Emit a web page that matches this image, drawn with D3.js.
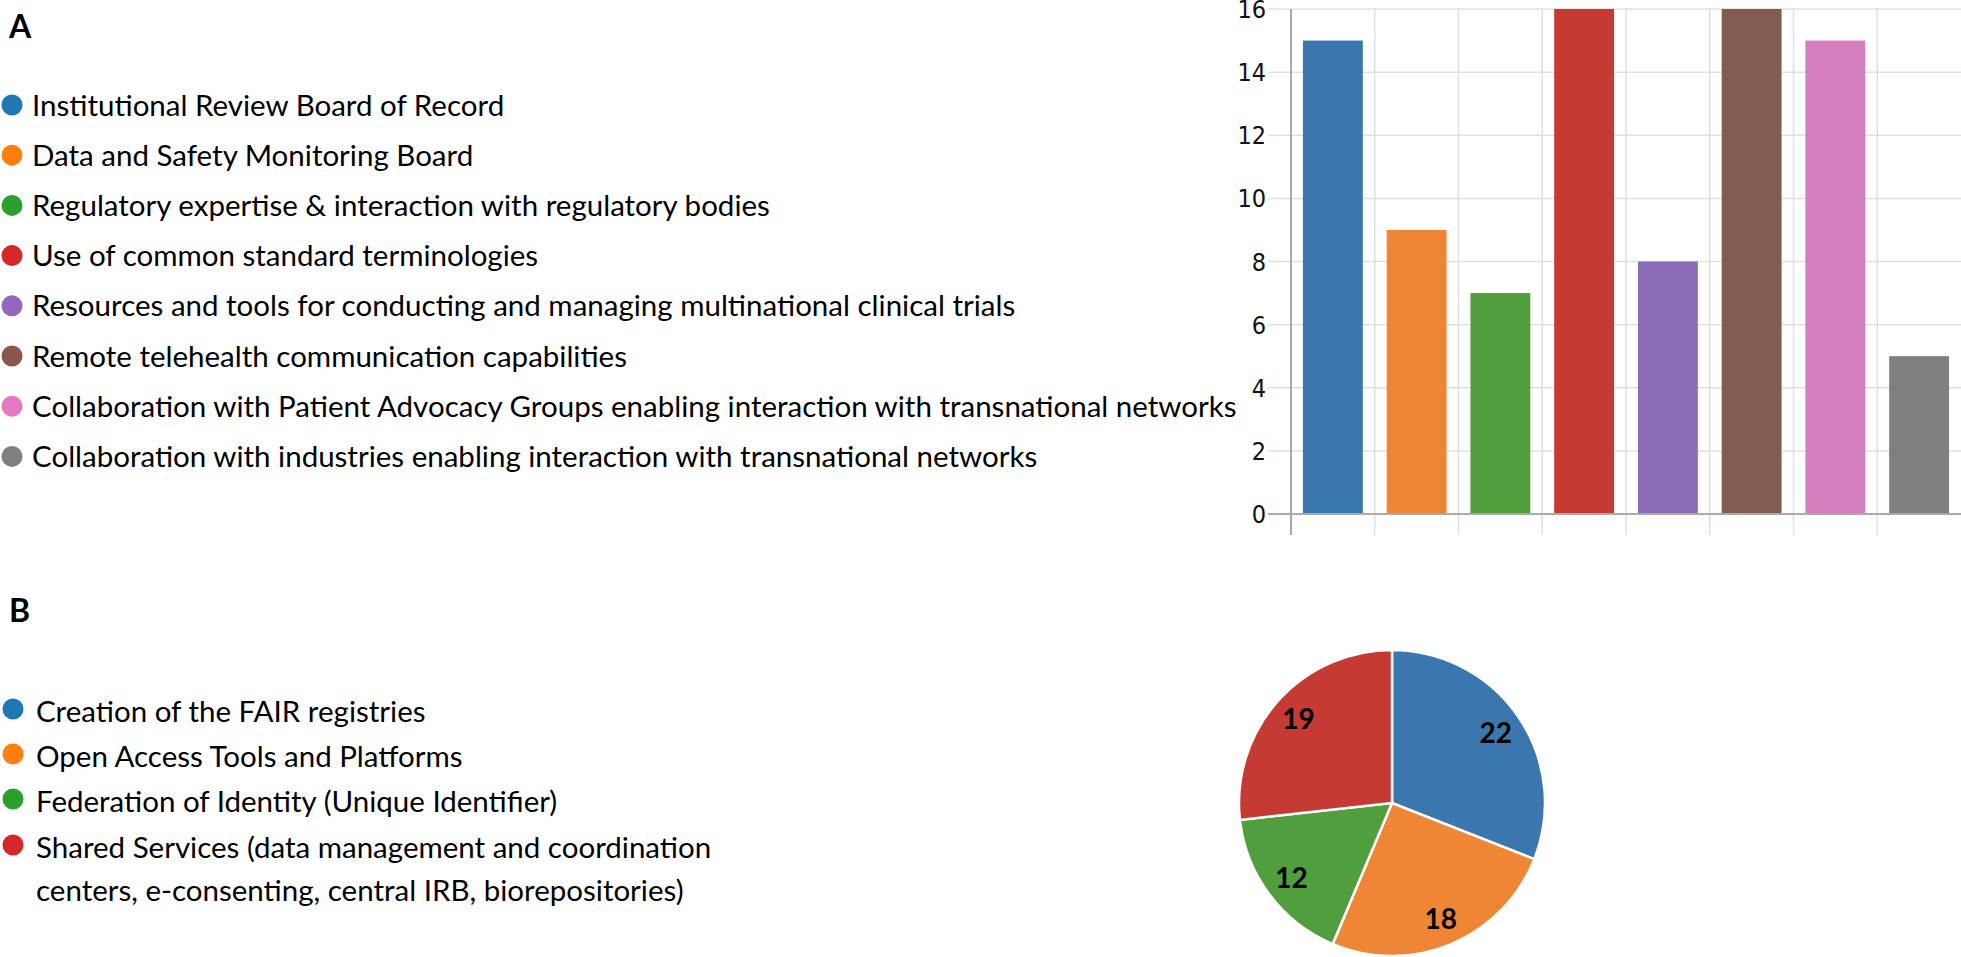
<!DOCTYPE html>
<html>
<head>
<meta charset="utf-8">
<script src="https://cdn.jsdelivr.net/npm/d3@7"></script>
<style>
  html, body { margin: 0; padding: 0; background: #fff; }
  svg { display: block; }
</style>
</head>
<body>
<svg id="chart" width="1961" height="957"></svg>
<script>
// panel A: services offered (bar chart)
const servicesA = [
  'Institutional Review Board of Record',
  'Data and Safety Monitoring Board',
  'Regulatory expertise & interaction with regulatory bodies',
  'Use of common standard terminologies',
  'Resources and tools for conducting and managing multinational clinical trials',
  'Remote telehealth communication capabilities',
  'Collaboration with Patient Advocacy Groups enabling interaction with transnational networks',
  'Collaboration with industries enabling interaction with transnational networks'
];
const countsA = [15, 9, 7, 16, 8, 16, 15, 5];
const yTicksA = [0, 2, 4, 6, 8, 10, 12, 14, 16];

// panel B: infrastructure (pie chart)
const servicesB = [
  ['Creation of the FAIR registries'],
  ['Open Access Tools and Platforms'],
  ['Federation of Identity (Unique Identifier)'],
  ['Shared Services (data management and coordination', 'centers, e-consenting, central IRB, biorepositories)']
];
const countsB = [22, 18, 12, 19];

const dotColors = ['#1f77b4', '#ff7f0e', '#2ca02c', '#d62728', '#9467bd', '#8c564b', '#e377c2', '#7f7f7f'];
const markColors = ['#3b77af', '#ef8636', '#519e3e', '#c53a32', '#8d6cb7', '#845b4f', '#d57ebd', '#7f7f7f'];

const svg = d3.select('#chart');
const textFont = 'Lato, "Open Sans", sans-serif';

// panel letters
svg.append('text').attr('x', 9).attr('y', 38).text('A')
  .style('font-family', textFont).style('font-weight', 'bold').style('font-size', '32px');
svg.append('text').attr('x', 9).attr('y', 622).text('B')
  .style('font-family', textFont).style('font-weight', 'bold').style('font-size', '32px');

// legend A
const legA = svg.append('g');
servicesA.forEach((label, i) => {
  const y = 105 + i * 50.2;
  legA.append('circle').attr('cx', 12).attr('cy', y).attr('r', 10.5).attr('fill', dotColors[i]);
  legA.append('text').attr('x', 32).attr('y', y).attr('dy', '0.36em').text(label)
    .style('font-family', textFont).style('font-size', '29.5px').attr('fill', '#000');
});

// legend B
const legB = svg.append('g');
const rowsB = [711, 756, 801, 847];
servicesB.forEach((lines, i) => {
  const y = rowsB[i];
  legB.append('circle').attr('cx', 13).attr('cy', y - 2).attr('r', 10.5).attr('fill', dotColors[i]);
  lines.forEach((line, j) => {
    legB.append('text').attr('x', 36).attr('y', y + j * 43).attr('dy', '0.36em').text(line)
      .style('font-family', textFont).style('font-size', '29.5px').attr('fill', '#000');
  });
});

// bar chart
const x = d3.scaleBand().domain(d3.range(countsA.length)).range([1291, 1961]).padding(0);
const y = d3.scaleLinear().domain([0, 16]).range([514, 9]);

const grid = svg.append('g');
grid.selectAll('.hgrid')
  .data(yTicksA)
  .enter()
  .append('line')
  .attr('x1', 1268).attr('x2', 1961)
  .attr('y1', d => y(d)).attr('y2', d => y(d))
  .attr('stroke', '#e0e0e0').attr('stroke-width', 1.5);
grid.selectAll('.vgrid')
  .data(d3.range(1, countsA.length))
  .enter()
  .append('line')
  .attr('x1', d => x(d)).attr('x2', d => x(d))
  .attr('y1', y(16)).attr('y2', 535)
  .attr('stroke', '#e0e0e0').attr('stroke-width', 1.5);

const bw = x.bandwidth() * 0.715;
svg.selectAll('.bar')
  .data(countsA)
  .enter()
  .append('rect')
  .attr('class', 'bar')
  .attr('x', (d, i) => x(i) + (x.bandwidth() - bw) / 2)
  .attr('y', d => y(d))
  .attr('width', bw)
  .attr('height', d => y(0) - y(d))
  .attr('fill', (d, i) => markColors[i]);

// axis lines
svg.append('line').attr('x1', 1268).attr('x2', 1961).attr('y1', y(0)).attr('y2', y(0))
  .attr('stroke', '#aaa').attr('stroke-width', 2);
svg.append('line').attr('x1', 1291).attr('x2', 1291).attr('y1', y(16)).attr('y2', 535)
  .attr('stroke', '#aaa').attr('stroke-width', 2);

svg.selectAll('.ytick')
  .data(yTicksA)
  .enter()
  .append('text')
  .attr('x', 1266)
  .attr('y', d => y(d))
  .attr('dy', '0.36em')
  .attr('text-anchor', 'end')
  .text(d => d)
  .style('font-family', '"DejaVu Sans Condensed", "DejaVu Sans", sans-serif')
  .style('font-size', '25px')
  .attr('fill', '#111');

// pie chart
const cx = 1392, cy = 803, r = 153;
const pie = d3.pie().sort(null).value(d => d);
const arc = d3.arc().innerRadius(0).outerRadius(r);
const labelArc = d3.arc().innerRadius(r * 0.82).outerRadius(r * 0.82);
const pieG = svg.append('g').attr('transform', `translate(${cx},${cy})`);
const arcs = pie(countsB);
pieG.selectAll('path')
  .data(arcs)
  .enter()
  .append('path')
  .attr('d', arc)
  .attr('fill', (d, i) => markColors[i])
  .attr('stroke', '#fff')
  .attr('stroke-width', 2.5);
pieG.selectAll('.plabel')
  .data(arcs)
  .enter()
  .append('text')
  .attr('transform', d => `translate(${labelArc.centroid(d)})`)
  .attr('dy', '0.36em')
  .attr('text-anchor', 'middle')
  .text(d => d.data)
  .style('font-family', textFont)
  .style('font-weight', 'bold')
  .style('font-size', '28px')
  .attr('fill', '#000');
</script>
</body>
</html>
